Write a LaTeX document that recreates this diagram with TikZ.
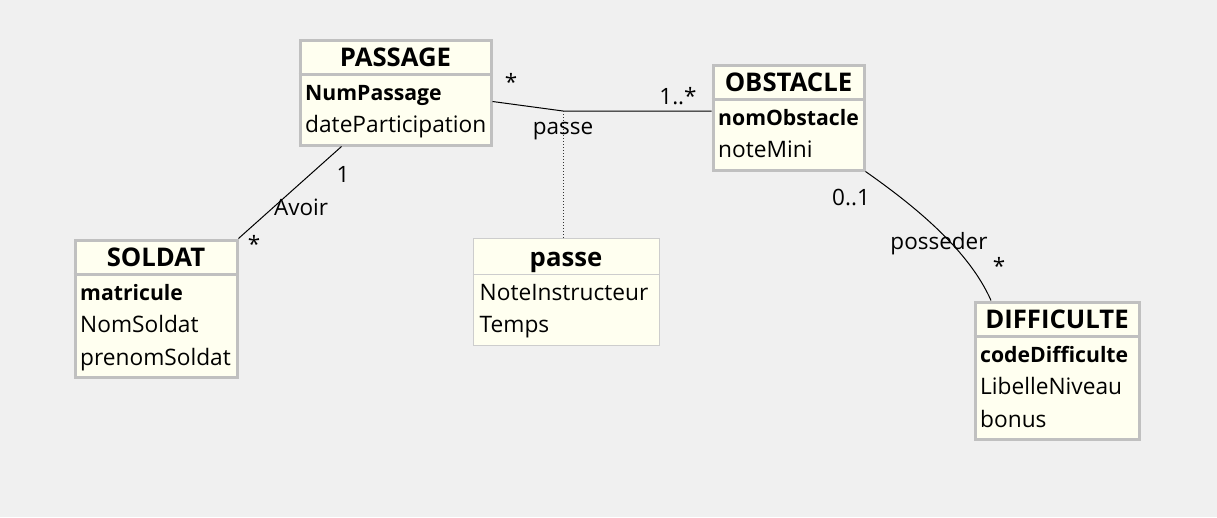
\documentclass[tikz,border=0pt]{standalone}
\usepackage{fontspec}
\setmainfont{Open Sans}
\usetikzlibrary{positioning}

\definecolor{fond}{RGB}{240,240,240}
\definecolor{cadre}{RGB}{192,192,192}
\definecolor{ivoire}{RGB}{255,255,240}

\begin{document}
\begin{tikzpicture}[x=1pt,y=-1pt,
                    classe/.style={draw=cadre,fill=ivoire,line width=3pt,
                      anchor=north west,inner sep=0pt},
                    assoc/.style={draw=cadre!80,fill=ivoire,line width=1pt,
                      anchor=north west,inner sep=0pt},
                    titre/.style={font=\fontsize{25.7}{30}\selectfont\bfseries,anchor=base,inner sep=0pt},
                    attr/.style={font=\fontsize{22.7}{26}\selectfont,anchor=base west,inner sep=0pt},
                    cle/.style={attr,font=\fontsize{21.2}{26}\selectfont\bfseries},
                    lbl/.style={font=\fontsize{22.5}{26}\selectfont,inner sep=0pt},
                    sep/.style={draw=cadre,line width=3pt},
                    lien/.style={draw=black,line width=1pt}]
      \fill[fond] (0,0) rectangle (1217,517);
      \useasboundingbox (0,0) rectangle (1217,517);

      % classes
      \node[classe,minimum width=191pt,minimum height=105pt] (PASSAGE) at (298.5,38.5) {};
      \node[titre] (PASSAGEt) at ([yshift=-27.5pt]PASSAGE.north) {PASSAGE};
      \draw[sep] ([yshift=-35.5pt]PASSAGE.north west) -- ([yshift=-35.5pt]PASSAGE.north east);
      \node[cle]  (PASSAGE1) at ([xshift=6.5pt,yshift=-62pt]PASSAGE.north west) {NumPassage};
      \node[attr] (PASSAGE2) at ([xshift=6.5pt,yshift=-94pt]PASSAGE.north west) {dateParticipation};

      \node[classe,minimum width=151pt,minimum height=105pt] (OBSTACLE) at (711.5,63.5) {};
      \node[titre] (OBSTACLEt) at ([yshift=-27.5pt]OBSTACLE.north) {OBSTACLE};
      \draw[sep] ([yshift=-35.5pt]OBSTACLE.north west) -- ([yshift=-35.5pt]OBSTACLE.north east);
      \node[cle]  (OBSTACLE1) at ([xshift=6.5pt,yshift=-62pt]OBSTACLE.north west) {nomObstacle};
      \node[attr] (OBSTACLE2) at ([xshift=6.5pt,yshift=-94pt]OBSTACLE.north west) {noteMini};

      \node[classe,minimum width=162pt,minimum height=137pt] (SOLDAT) at (73.5,238.5) {};
      \node[titre] (SOLDATt) at ([yshift=-27.5pt]SOLDAT.north) {SOLDAT};
      \draw[sep] ([yshift=-35.5pt]SOLDAT.north west) -- ([yshift=-35.5pt]SOLDAT.north east);
      \node[cle]  (SOLDAT1) at ([xshift=6.5pt,yshift=-62pt]SOLDAT.north west) {matricule};
      \node[attr] (SOLDAT2) at ([xshift=6.5pt,yshift=-94pt]SOLDAT.north west) {NomSoldat};
      \node[attr] (SOLDAT3) at ([xshift=6.5pt,yshift=-126.5pt]SOLDAT.north west) {prenomSoldat};

      \node[classe,minimum width=164pt,minimum height=137pt] (DIFFICULTE) at (973.5,300.5) {};
      \node[titre] (DIFFICULTEt) at ([yshift=-27.5pt]DIFFICULTE.north) {DIFFICULTE};
      \draw[sep] ([yshift=-35.5pt]DIFFICULTE.north west) -- ([yshift=-35.5pt]DIFFICULTE.north east);
      \node[cle]  (DIFFICULTE1) at ([xshift=6.5pt,yshift=-62pt]DIFFICULTE.north west) {codeDifficulte};
      \node[attr] (DIFFICULTE2) at ([xshift=6.5pt,yshift=-94pt]DIFFICULTE.north west) {LibelleNiveau};
      \node[attr] (DIFFICULTE3) at ([xshift=6.5pt,yshift=-126.5pt]DIFFICULTE.north west) {bonus};

      % classe d'association
      \node[assoc,minimum width=186pt,minimum height=107pt] (PASSE) at (472.5,237.5) {};
      \node[titre] (PASSEt) at ([yshift=-28.5pt]PASSE.north) {passe};
      \draw[draw=cadre!80,line width=1pt] ([yshift=-36.5pt]PASSE.north west) -- ([yshift=-36.5pt]PASSE.north east);
      \node[attr] (PASSE1) at ([xshift=7pt,yshift=-63pt]PASSE.north west) {NoteInstructeur};
      \node[attr] (PASSE2) at ([xshift=7pt,yshift=-95pt]PASSE.north west) {Temps};

      % associations
      \coordinate (passeJ) at (563,111);
      \draw[lien] ([yshift=-9pt]PASSAGE.east) -- (passeJ) -- (passeJ -| OBSTACLE.west);
      \draw[draw=black!80,line width=1pt,dotted] (passeJ) -- (passeJ |- PASSE.north);
      \draw[lien] ([xshift=-54pt]PASSAGE.south) -- (SOLDAT.north east);
      \draw[lien] (OBSTACLE.south east) .. controls +(50,35) and +(-22,-50) .. ([xshift=17.5pt]DIFFICULTE.north west);

      % cardinalites
      \node[lbl] (c1) at (511,82) {*};
      \node[lbl] (c2) at (678,96) {1..*};
      \node[lbl] (n1) at (563,131) {passe};
      \node[lbl] (c3) at (343,174) {1};
      \node[lbl] (n2) at (301,207) {Avoir};
      \node[lbl] (c4) at (254,244) {*};
      \node[lbl] (c5) at (851,197) {0..1};
      \node[lbl] (n3) at (939,244) {posseder};
      \node[lbl] (c6) at (999,266) {*};
\end{tikzpicture}
\end{document}
